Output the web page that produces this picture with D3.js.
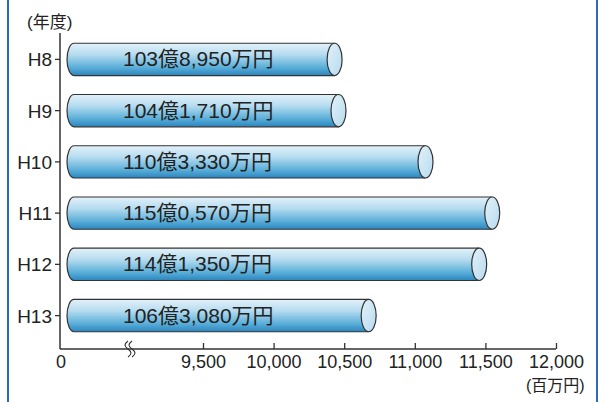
<!DOCTYPE html>
<html>
<head>
<meta charset="utf-8">
<script src="https://cdn.jsdelivr.net/npm/d3@7"></script>
<style>
  body { margin: 0; background: #fff; }
  svg text { font-family: "Liberation Sans", "Noto Sans CJK JP", sans-serif; fill: #222; }
</style>
</head>
<body>
<div id="chart"></div>
<script>
const years = ["H8", "H9", "H10", "H11", "H12", "H13"];
const values = [10389.5, 10417.1, 11033.3, 11505.7, 11413.5, 10630.8]; // 百万円
const labels = ["103億8,950万円", "104億1,710万円", "110億3,330万円", "115億0,570万円", "114億1,350万円", "106億3,080万円"];
const ticks = [9500, 10000, 10500, 11000, 11500, 12000];

const W = 602, H = 402;
const axisX = 60, axisY = 349;

const svg = d3.select("#chart").append("svg")
    .attr("width", W).attr("height", H);

// blue frame lines left/right
svg.append("line").attr("x1", 8).attr("x2", 8).attr("y1", 0).attr("y2", H)
    .attr("stroke", "#2c6cb0").attr("stroke-width", 2);
svg.append("line").attr("x1", 597).attr("x2", 597).attr("y1", 0).attr("y2", H)
    .attr("stroke", "#2c6cb0").attr("stroke-width", 2);

// broken scale: 0 sits on the y axis, then 9,500 .. 12,000
const x = d3.scaleLinear().domain([9500, 12000]).range([203, 556]);
const y = d3.scaleBand().domain(years).range([33, 342]).paddingInner(0.37).paddingOuter(0.2);

const defs = svg.append("defs");
const grad = defs.append("linearGradient").attr("id", "tube")
    .attr("x1", 0).attr("y1", 0).attr("x2", 0).attr("y2", 1);
grad.append("stop").attr("offset", "0%").attr("stop-color", "#e3f1f9");
grad.append("stop").attr("offset", "35%").attr("stop-color", "#b6dcf0");
grad.append("stop").attr("offset", "75%").attr("stop-color", "#5aaed8");
grad.append("stop").attr("offset", "100%").attr("stop-color", "#2a86c0");

const capGrad = defs.append("linearGradient").attr("id", "cap")
    .attr("x1", 0).attr("y1", 0).attr("x2", 1).attr("y2", 1);
capGrad.append("stop").attr("offset", "0%").attr("stop-color", "#e2f1f9");
capGrad.append("stop").attr("offset", "100%").attr("stop-color", "#b7dbef");

const x0 = 67, rxL = 7, rxR = 7.5;

const bars = svg.append("g").selectAll("g")
    .data(years)
    .join("g");

bars.append("path")
    .attr("fill", "url(#tube)")
    .attr("stroke", "#333")
    .attr("stroke-width", 1.2)
    .attr("d", (d, i) => {
        const t = y(d), b = t + y.bandwidth(), r = y.bandwidth() / 2;
        const xe = x(values[i]) + 6;
        return `M${xe},${t} L${x0 + rxL},${t} A${rxL},${r} 0 0 0 ${x0 + rxL},${b} L${xe},${b}`;
    });

bars.append("ellipse")
    .attr("cx", (d, i) => x(values[i]) + 6)
    .attr("cy", d => y(d) + y.bandwidth() / 2)
    .attr("rx", rxR)
    .attr("ry", y.bandwidth() / 2)
    .attr("fill", "url(#cap)")
    .attr("stroke", "#333")
    .attr("stroke-width", 1.2);

bars.append("text")
    .attr("x", 123)
    .attr("y", d => y(d) + y.bandwidth() / 2 + 7)
    .attr("font-size", 21)
    .text((d, i) => labels[i]);

// y axis
svg.append("line").attr("x1", axisX).attr("x2", axisX).attr("y1", 33).attr("y2", axisY)
    .attr("stroke", "#333").attr("stroke-width", 1.5);
const yl = svg.append("g");
yl.selectAll("line").data(years).join("line")
    .attr("x1", axisX - 5).attr("x2", axisX)
    .attr("y1", d => y(d) + y.bandwidth() / 2).attr("y2", d => y(d) + y.bandwidth() / 2)
    .attr("stroke", "#333").attr("stroke-width", 1.3);
yl.selectAll("text").data(years).join("text")
    .attr("x", 52).attr("y", d => y(d) + y.bandwidth() / 2 + 7)
    .attr("text-anchor", "end").attr("font-size", 19)
    .text(d => d);

svg.append("text").attr("x", 27).attr("y", 28).attr("font-size", 17).text("(年度)");

// x axis
svg.append("line").attr("x1", axisX).attr("x2", x(12000)).attr("y1", axisY).attr("y2", axisY)
    .attr("stroke", "#333").attr("stroke-width", 1.5);
const xa = svg.append("g").attr("transform", `translate(0,${axisY})`)
    .call(d3.axisBottom(x).tickValues(ticks).tickSizeInner(-6).tickSizeOuter(0).tickPadding(6)
        .tickFormat(d3.format(",")));
xa.select(".domain").remove();
xa.selectAll(".tick line").attr("stroke", "#333").attr("stroke-width", 1.3);
xa.selectAll(".tick text").attr("font-size", 18).attr("fill", "#222")
    .attr("font-family", "'Liberation Sans', sans-serif");
svg.append("text").attr("x", axisX + 1).attr("y", axisY + 19).attr("text-anchor", "middle")
    .attr("font-size", 18).text("0");

// axis break mark
const br = svg.append("g").attr("fill", "none").attr("stroke", "#333").attr("stroke-width", 1.1);
[128, 132].forEach(bx => {
    br.append("path").attr("d", `M${bx},${axisY - 8} c-4,3 -4,5 0,8 c4,3 4,5 0,8`);
});

svg.append("text").attr("x", 526).attr("y", 391).attr("font-size", 16).text("(百万円)");
</script>
</body>
</html>
